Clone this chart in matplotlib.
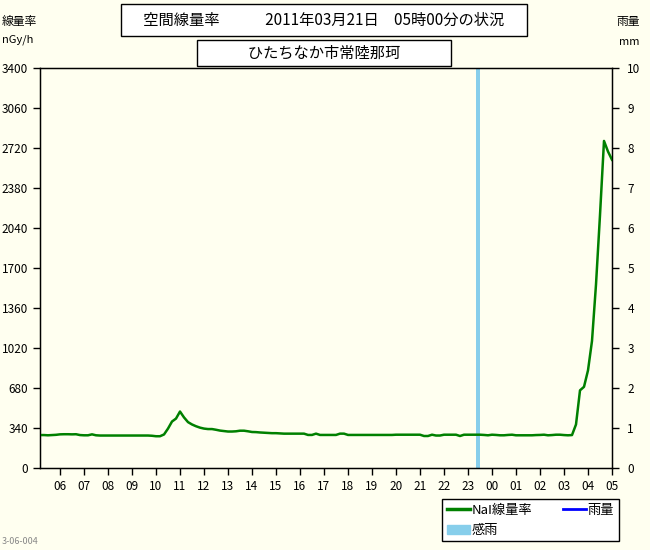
import numpy as np
import matplotlib
matplotlib.use("Agg")
import matplotlib.pyplot as plt
from matplotlib.lines import Line2D
from matplotlib.patches import Patch

plt.rcParams['font.family'] = ['Noto Sans CJK JP', 'DejaVu Sans']

# 10-minute NaI dose rate (nGy/h), 05:10 on 3/20 .. 05:00 on 3/21, one row per hour
dose = [
    280, 280, 278, 280, 282, 286,      # 05:10-06:00
    287, 287, 286, 287, 280, 278,      # 06
    278, 286, 278, 276, 276, 276,      # 07
    276, 276, 276, 276, 276, 276,      # 08
    276, 276, 276, 276, 274, 270,      # 09
    270, 285, 335, 395, 420, 480,      # 10
    430, 390, 370, 355, 343, 335,      # 11
    331, 331, 325, 318, 314, 310,      # 12
    310, 312, 317, 317, 312, 306,      # 13
    305, 302, 300, 298, 296, 296,      # 14
    294, 292, 292, 292, 292, 292,      # 15
    292, 281, 281, 292, 281, 281,      # 16
    281, 281, 281, 292, 292, 281,      # 17
    281, 281, 281, 281, 281, 281,      # 18
    281, 281, 281, 281, 281, 283,      # 19
    283, 283, 283, 283, 283, 283,      # 20
    272, 272, 283, 276, 276, 283,      # 21
    283, 283, 283, 272, 283, 283,      # 22
    283, 283, 283, 281, 278, 283,      # 23
    281, 278, 278, 281, 283, 278,      # 00
    278, 278, 278, 278, 280, 281,      # 01
    283, 278, 280, 283, 283, 280,      # 02
    278, 280, 370, 660, 690, 830,      # 03
    1080, 1560, 2150, 2780, 2690, 2620 # 04
]
hours = ['06', '07', '08', '09', '10', '11', '12', '13', '14', '15', '16', '17',
         '18', '19', '20', '21', '22', '23', '00', '01', '02', '03', '04', '05']
rain_sense = [(18 + 20 / 60, 18 + 30 / 60)]   # 23:20-23:30, hours after 05:00
left_ticks = list(range(0, 3401, 340))
right_ticks = list(range(0, 11))

bg = '#fffff0'
t = np.arange(1, len(dose) + 1) / 6.0   # hours after 05:00

fig = plt.figure(figsize=(6.5, 5.5), dpi=100, facecolor=bg)
ax = fig.add_axes([40 / 650, 82 / 550, 572 / 650, 400 / 550])
ax.set_facecolor(bg)

for a, b in rain_sense:
    ax.axvspan(a, b, color='#87ceeb', lw=0, zorder=1)
ax.plot(t, dose, color='#008000', lw=1.8, zorder=3)

ax.set_xlim(1 / 6, 24)
ax.set_ylim(0, 3400)
ax.set_xticks(range(1, 25))
ax.set_xticklabels(hours)
ax.set_yticks(left_ticks)
ax.tick_params(axis='both', direction='out', length=5, width=1, labelsize=8.5, colors='black')
ax.tick_params(axis='x', pad=4)
for s in ax.spines.values():
    s.set_color('black')
    s.set_linewidth(1)

ax2 = ax.twinx()
ax2.set_ylim(0, 10)
ax2.set_yticks(right_ticks)
ax2.tick_params(axis='y', direction='out', length=5, width=1, labelsize=8.5, pad=6)

# title boxes
fig.text(324 / 650, 1 - 20 / 550, '　空間線量率　　　2011年03月21日　05時00分の状況　',
         ha='center', va='center', fontsize=11,
         bbox=dict(boxstyle='square,pad=0.5', fc='white', ec='black', lw=1))
fig.text(324 / 650, 1 - 53 / 550, '　　　ひたちなか市常陸那珂　　　',
         ha='center', va='center', fontsize=11,
         bbox=dict(boxstyle='square,pad=0.3', fc='white', ec='black', lw=1))

fig.text(2 / 650, 1 - 22 / 550, '線量率', fontsize=8.5, va='center')
fig.text(2 / 650, 1 - 40 / 550, 'nGy/h', fontsize=8, va='center')
fig.text(640 / 650, 1 - 22 / 550, '雨量', fontsize=8.5, va='center', ha='right')
fig.text(640 / 650, 1 - 42 / 550, 'mm', fontsize=8, va='center', ha='right')
fig.text(2 / 650, 1 - 541 / 550, '3-06-004', fontsize=6.5, color='#888888', va='center')

# column-first fill: NaI / 感雨 in column 1, 雨量 in column 2
handles = [Line2D([0], [0], color='#008000', lw=2.5),
           Patch(color='#87ceeb'),
           Line2D([0], [0], color='#0000ff', lw=2)]
labels = ['NaI線量率', '感雨', '雨量']
fig.legend(handles, labels, ncol=2, loc='upper left',
           bbox_to_anchor=(442 / 650, 1 - 499 / 550), fontsize=9.5,
           frameon=True, fancybox=False, edgecolor='black', facecolor='white',
           framealpha=1, handlelength=1.8, handletextpad=0.1, columnspacing=2.3,
           labelspacing=0.55, borderpad=0.35, borderaxespad=0)

fig.savefig('out.png', dpi=100, facecolor=bg)
